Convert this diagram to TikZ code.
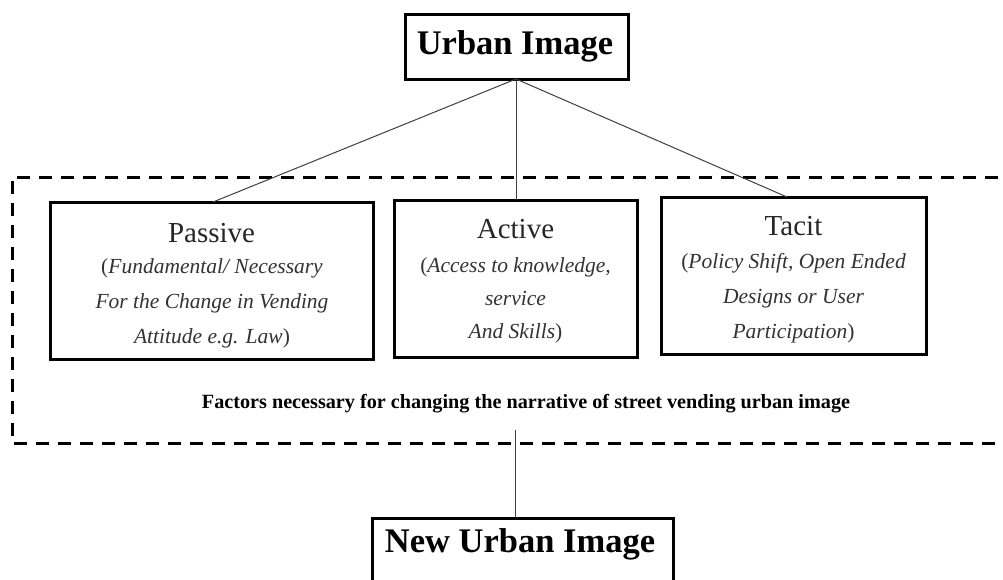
\documentclass[tikz,border=0pt]{standalone}
\usepackage{fontspec}
\setmainfont{Liberation Serif}
\begin{document}
\begin{tikzpicture}[x=1pt,y=-1pt,
  boxstyle/.style={draw=black,line width=3pt,inner sep=0pt},
  titletext/.style={font=\bfseries\fontsize{34.5}{40}\selectfont,inner sep=0pt},
  headtext/.style={font=\fontsize{29}{33}\selectfont,text=black!85,inner sep=0pt},
  desctext/.style={font=\itshape\fontsize{21.5}{35}\selectfont,text=black!80,align=center,inner sep=0pt},
  conn/.style={draw=black!75,line width=1pt},
  dashbox/.style={draw=black,line width=3pt,dash pattern=on 13pt off 9pt}
]
\useasboundingbox (0,0) rectangle (1003,579);
\fill[white] (0,0) rectangle (1003,579);

% dashed frame
\draw[dashbox] (1020,177) -- (12,177) -- (12,443) -- (1020,443);

% top node
\node[boxstyle,minimum width=223pt,minimum height=65pt] (urban) at (516.5,46.5) {};
\node[titletext] (urbant) at (515,46) {Urban Image};

% factor boxes
\node[boxstyle,minimum width=323pt,minimum height=157pt] (passive) at (211.5,280.5) {};
\node[headtext] (passiveh) at (211.5,233) {Passive};
\node[desctext] (passived) at (212,303) {\textup{(}Fundamental/ Necessary\\For the Change in Vending\\Attitude e.g. Law\textup{)}};

\node[boxstyle,minimum width=243pt,minimum height=157pt] (active) at (515.5,278.5) {};
\node[headtext] (activeh) at (515.5,229) {Active};
\node[desctext,font=\itshape\fontsize{21.5}{33}\selectfont] (actived) at (515.5,300) {\textup{(}Access to knowledge,\\service\\And Skills\textup{)}};

\node[boxstyle,minimum width=265pt,minimum height=157pt] (tacit) at (793.5,275.5) {};
\node[headtext] (tacith) at (793.5,226) {Tacit};
\node[desctext] (tacitd) at (793.5,298) {\textup{(}Policy Shift, Open Ended\\Designs or User\\Participation\textup{)}};

% caption
\node[font=\bfseries\fontsize{20.2}{24}\selectfont,inner sep=0pt] (caption) at (526,404) {Factors necessary for changing the narrative of street vending urban image};

% bottom node
\node[boxstyle,minimum width=301pt,minimum height=82pt] (newbox) at (522.5,559) {};
\node[titletext] (newt) at (520,544) {New Urban Image};

\coordinate (hub) at (516,79);
\coordinate (pt) at (213,202);
\coordinate (at) at (516,200);
\coordinate (tt) at (787,197);
\coordinate (low) at (515,430);

\draw[conn] (hub) -- (pt);
\draw[conn] (hub) -- (at);
\draw[conn] (hub) -- (tt);
\draw[conn] (low) -- (newbox.north -| low);
\end{tikzpicture}
\end{document}
